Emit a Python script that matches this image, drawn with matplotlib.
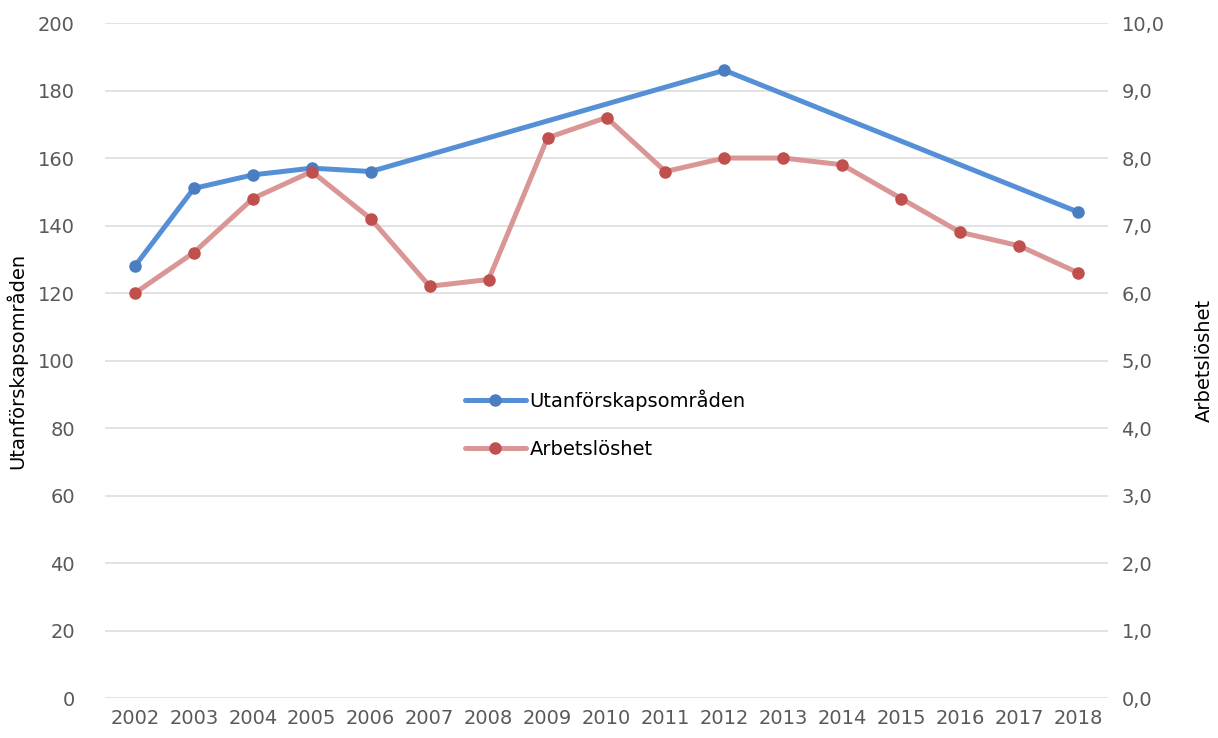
import matplotlib.pyplot as plt
from matplotlib.ticker import FuncFormatter

# data
years = list(range(2002, 2019))
utanf_years = [2002, 2003, 2004, 2005, 2006, 2012, 2018]
utanf_vals = [128, 151, 155, 157, 156, 186, 144]
arbets_vals = [6.0, 6.6, 7.4, 7.8, 7.1, 6.1, 6.2, 8.3, 8.6, 7.8,
               8.0, 8.0, 7.9, 7.4, 6.9, 6.7, 6.3]

plt.rcParams["font.family"] = ["DejaVu Sans"]
grey = "#595959"

fig = plt.figure(figsize=(12.18, 7.38), dpi=100)
ax = fig.add_axes([0.0866, 0.0542, 0.8227, 0.9146])
ax2 = ax.twinx()

ax.plot([y - 2002 for y in utanf_years], utanf_vals, color="#5590D6", lw=3.6,
        marker="o", ms=8, mfc="#4A7EC0", mec="#4A7EC0",
        label="Utanförskapsområden", solid_capstyle="round")
ax2.plot(range(len(years)), arbets_vals, color="#DA9694", lw=3.6,
         marker="o", ms=8, mfc="#C0504D", mec="#C0504D",
         label="Arbetslöshet", solid_capstyle="round")

ax.set_xlim(-0.5, len(years) - 0.5)
ax.set_ylim(0, 200)
ax2.set_ylim(0, 10)
ax.set_yticks(range(0, 201, 20))
ax2.set_yticks(range(0, 11))
ax2.yaxis.set_major_formatter(FuncFormatter(lambda v, p: f"{v:.1f}".replace(".", ",")))
ax.set_xticks(range(len(years)))
ax.set_xticklabels([str(y) for y in years])

ax.grid(axis="y", color="#DDDDDD", lw=1.2)
ax.set_axisbelow(True)
for a in (ax, ax2):
    for s in a.spines.values():
        s.set_visible(False)
ax.tick_params(axis="y", length=0, pad=22, labelsize=14, labelcolor=grey)
ax.tick_params(axis="x", length=0, pad=8, labelsize=14, labelcolor=grey)
ax2.tick_params(axis="y", length=0, pad=10, labelsize=14, labelcolor=grey)

ax.set_ylabel("Utanförskapsområden", fontsize=14, color="black", labelpad=8)
ax2.set_ylabel("Arbetslöshet", fontsize=14, color="black", labelpad=22)

h1, l1 = ax.get_legend_handles_labels()
h2, l2 = ax2.get_legend_handles_labels()
fig.legend(h1 + h2, l1 + l2, loc="center left", bbox_to_anchor=(0.382, 0.425),
           frameon=False, fontsize=14, handlelength=3.1, handletextpad=0.2,
           labelspacing=1.5, borderpad=0, borderaxespad=0)

fig.savefig("out.png", dpi=100)
